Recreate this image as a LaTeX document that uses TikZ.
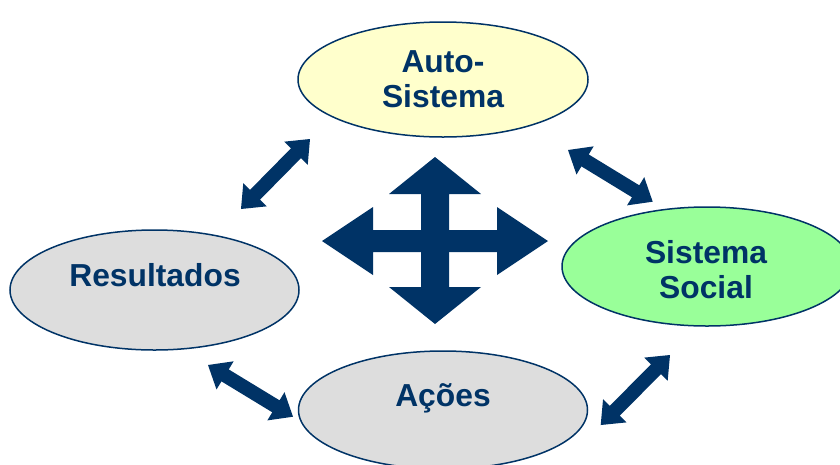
\documentclass[tikz,border=0pt]{standalone}
\usepackage{fontspec}
\setmainfont{Liberation Sans}
\usetikzlibrary{calc,shapes.geometric}
\definecolor{navy}{HTML}{003366}
\definecolor{paleyellow}{HTML}{FFFFCC}
\definecolor{palegreen}{HTML}{99FF99}
\definecolor{palegray}{HTML}{DDDDDD}

% Double-headed block arrow between two tip points.
% #1,#2 tips; #3 head length; #4 half head width; #5 half shaft width
\newcommand{\dualarrow}[5]{%
  \fill[arrowfill]
    (#1)
    -- ($(#1)!#3!(#2)!#4!90:(#2)$)
    -- ($(#1)!#3!(#2)!#5!90:(#2)$)
    -- ($(#2)!#3!(#1)!#5!-90:(#1)$)
    -- ($(#2)!#3!(#1)!#4!-90:(#1)$)
    -- (#2)
    -- ($(#2)!#3!(#1)!#4!90:(#1)$)
    -- ($(#2)!#3!(#1)!#5!90:(#1)$)
    -- ($(#1)!#3!(#2)!#5!-90:(#2)$)
    -- ($(#1)!#3!(#2)!#4!-90:(#2)$)
    -- cycle;}

\begin{document}
\begin{tikzpicture}[x=1pt,y=-1pt,
  bubble/.style={ellipse, draw=navy, line width=1.5pt, inner sep=0pt},
  caption/.style={text=navy, align=center, inner sep=0pt,
    font=\fontsize{31.8}{35}\selectfont\bfseries},
  arrowfill/.style={fill=navy}]

\useasboundingbox (0,0) rectangle (840,464);
\clip (0,0) rectangle (840,464);

% ellipses
\node[bubble, fill=paleyellow, minimum width=290pt, minimum height=115pt] (auto) at (443,79.5) {};
\node[bubble, fill=palegreen, minimum width=290pt, minimum height=119pt] (social) at (707,266.5) {};
\node[bubble, fill=palegray, minimum width=289pt, minimum height=120pt] (result) at (154.5,290) {};
\node[bubble, fill=palegray, minimum width=289pt, minimum height=118pt] (acoes) at (443,410) {};

% captions
\node[caption] (autot) at (443,79.5) {Auto-\\Sistema};
\node[caption] (socialt) at (706,269.5) {Sistema\\Social};
\node[caption] (resultt) at (155,275) {Resultados};
\node[caption] (acoest) at (443,398) {Ações};

% tips of the diagonal arrows
\coordinate (ra) at (241,209);   \coordinate (ar) at (310,139);
\coordinate (as) at (568,150);   \coordinate (sa) at (652.7,201.7);
\coordinate (cs) at (600.7,425); \coordinate (sc) at (670,355);
\coordinate (rc) at (208,365);   \coordinate (cr) at (293,416.7);

\dualarrow{ra}{ar}{20pt}{16.5pt}{7pt}
\dualarrow{as}{sa}{20pt}{16.5pt}{7pt}
\dualarrow{cs}{sc}{20pt}{16.5pt}{7pt}
\dualarrow{rc}{cr}{20pt}{16.5pt}{7pt}

% central four-way arrow
\coordinate (xl) at (322,241);   \coordinate (xr) at (548,241);
\coordinate (xt) at (435,157);   \coordinate (xb) at (435,324);
\dualarrow{xl}{xr}{51pt}{34pt}{11pt}
\dualarrow{xt}{xb}{37pt}{46pt}{14pt}

\end{tikzpicture}
\end{document}
